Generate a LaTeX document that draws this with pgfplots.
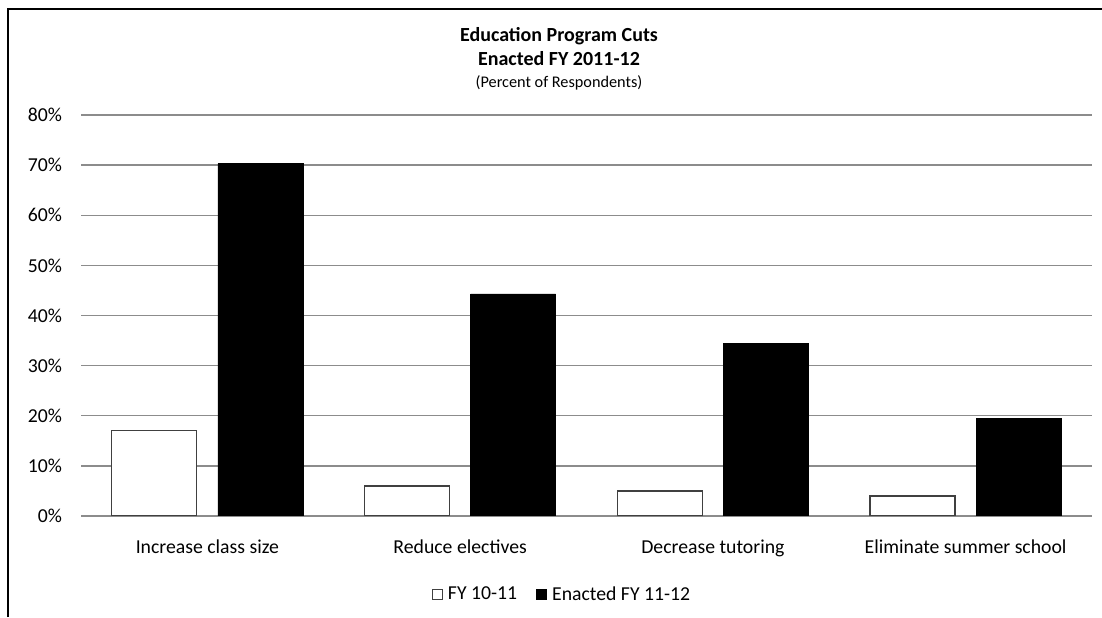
\documentclass[border=0pt]{standalone}
\usepackage{pgfplots}
\pgfplotsset{compat=1.18}
\usepackage{fontspec}
\setmainfont{Carlito}
\definecolor{gridgray}{RGB}{140,140,140}
\begin{document}
\fontsize{14.8pt}{17pt}\selectfont
\begin{tikzpicture}
\useasboundingbox (0,0) rectangle (826.5pt,462.75pt);
\draw[line width=1.5pt] (6pt,0) -- (6pt,456pt) -- (826.5pt,456pt);
\node[font=\bfseries\fontsize{15pt}{17pt}\selectfont] at (419.25pt,435.75pt) {Education Program Cuts};
\node[font=\bfseries\fontsize{15pt}{17pt}\selectfont] at (419.25pt,418.5pt) {Enacted FY 2011-12};
\node[font=\fontsize{12.2pt}{14pt}\selectfont] at (419.25pt,400.5pt) {(Percent of Respondents)};
\begin{axis}[
    at={(60.75pt,75.75pt)}, anchor=south west,
    scale only axis,
    width=758.25pt, height=300.75pt,
    xmin=-0.5, xmax=3.5, ymin=0, ymax=80,
    axis line style={draw=none},
    ymajorgrids,
    major grid style={gridgray, line width=1pt},
    major tick length=0pt,
    ytick={0,10,...,80},
    yticklabel={\pgfmathprintnumber{\tick}\%},
    /pgf/number format/assume math mode=true,
    yticklabel style={anchor=east, inner sep=0pt, xshift=-14pt},
    xtick={0,1,2,3},
    xticklabels={Increase class size, Reduce electives, Decrease tutoring, Eliminate summer school},
    xticklabel style={anchor=north, inner sep=0pt, yshift=-18pt},
    ybar, bar width=0.336,
    legend style={draw=none, fill=none, at={(0.476,-0.197)}, anchor=center,
        legend columns=2,
        /tikz/every odd column/.append style={column sep=2pt},
        /tikz/every even column/.append style={column sep=12pt}},
    legend image code/.code={\draw[#1, line width=0.75pt] (0pt,-3.75pt) rectangle (7.5pt,3.75pt);},
]
    % FY 10-11
    \addplot[fill=white, draw=black!75, line width=0.9pt, bar shift=-0.21] coordinates {
        (0,17) (1,6) (2,5) (3,4)
    };
    % Enacted FY 11-12
    \addplot[fill=black, draw=black, bar shift=0.21] coordinates {
        (0,70.3) (1,44.3) (2,34.5) (3,19.4)
    };
    \legend{FY 10-11, Enacted FY 11-12}
\end{axis}
\end{tikzpicture}
\end{document}
